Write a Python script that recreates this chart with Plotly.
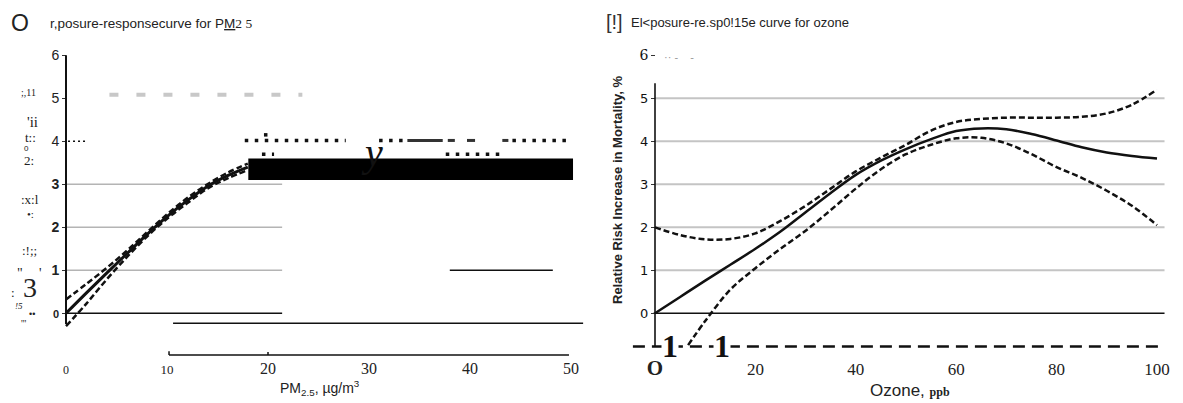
import plotly.graph_objects as go

# ---------------- data ----------------
# Panel A: PM2.5 exposure-response
pm_x = [0, 2, 4, 6, 8, 10, 12, 14, 16, 18]
pm_mid = [0.0, 0.47, 0.93, 1.38, 1.83, 2.25, 2.62, 2.95, 3.2, 3.4]
pm_hi = [0.32, 0.68, 1.05, 1.45, 1.88, 2.3, 2.68, 3.0, 3.27, 3.48]
pm_lo = [-0.3, 0.22, 0.78, 1.3, 1.78, 2.2, 2.56, 2.9, 3.14, 3.33]
pm_xticks = [0, 10, 20, 30, 40, 50]
pm_xticktext = ["<span style='font-size:12px'>0</span>", "<span style='font-size:13px'>10</span>",
                "20", "30", "40", "50"]
pm_yticks = [0, 1, 2, 3, 4, 5, 6]
pm_yticktext = ["<span style='font-size:11px'><b>0</b></span>", "<b>1</b>", "<b>2</b>", "<b>3</b>",
                "4", "5", "6"]

# Panel B: ozone exposure-response
oz_x = [0, 5, 10, 15, 20, 25, 30, 35, 40, 45, 50, 55, 60, 65, 70, 75, 80, 85, 90, 95, 100]
oz_mid = [0.0, 0.38, 0.76, 1.13, 1.5, 1.9, 2.35, 2.8, 3.22, 3.55, 3.82, 4.05, 4.24, 4.3,
          4.28, 4.17, 4.02, 3.86, 3.74, 3.66, 3.6]
oz_hi = [2.0, 1.82, 1.72, 1.73, 1.86, 2.15, 2.5, 2.9, 3.3, 3.62, 3.92, 4.25, 4.45, 4.52,
         4.55, 4.55, 4.55, 4.57, 4.65, 4.85, 5.2]
oz_lo_x = [6.6, 10, 15, 20, 25, 30, 35, 40, 45, 50, 55, 60, 65, 70, 75, 80, 85, 90, 95, 100]
oz_lo = [-0.74, -0.18, 0.55, 1.05, 1.5, 1.92, 2.4, 2.9, 3.35, 3.7, 3.92, 4.07, 4.08,
         3.95, 3.7, 3.4, 3.15, 2.85, 2.5, 2.05]
oz_xticks = [0, 20, 40, 60, 80, 100]
oz_xticktext = ["<span style='font-size:21px'><b>O</b></span>", "20", "40", "60", "80", "100"]
oz_yticks = [0, 1, 2, 3, 4, 5, 6]
oz_yticktext = ["0", "1", "2", "3", "4", "5",
                "<span style='font-family:DejaVu Serif;font-size:14px'>6</span>"]

# reference lines / artefacts (data coordinates)
pm_grid_levels = [1, 2, 3]
pm_grid_span = [0, 21.4]
pm_box_x = [18.05, 50.2]
pm_box_y = [3.1, 3.6]
pm_gray_dash_x = [4.3, 23.4]
pm_gray_dash_y = 5.08
pm_dot_rows = [  # (x0, x1, y)
    (17.7, 27.7, 4.02), (31.0, 33.4, 4.02), (44.2, 49.7, 4.02),
    (19.4, 20.6, 3.7), (37.6, 43.1, 3.7), (19.6, 20.4, 4.15)]
pm_dash_rows = [(33.8, 37.3, 4.02), (37.8, 38.5, 4.02), (39.7, 40.5, 4.02), (43.2, 43.8, 4.02)]
pm_low_lines = [(10.6, 51.2, -0.23), (10.2, 49.8, -0.97)]
pm_seg_one = (38.0, 48.2, 1.0)

oz_grid_levels = [1, 2, 3, 4, 5]
oz_grid_span = [0, 101.5]
oz_dash_line = (-4.4, 100.5, -0.77)
oz_one_marks = [3.0, 13.3]

# ---------------- figure ----------------
# page body has an 8px margin, so the figure is offset by 8px
OFF = 8
W, H = 1175, 395


def px(x):
    return (x - OFF) / W


def py(y):
    return 1 - (y - OFF) / H


fig = go.Figure()

dash_style = "6px,3px"
fig.add_trace(go.Scatter(x=pm_x, y=pm_hi, mode="lines", xaxis="x", yaxis="y",
                         line=dict(color="#111", width=2.5, dash=dash_style, shape="spline")))
fig.add_trace(go.Scatter(x=pm_x, y=pm_lo, mode="lines", xaxis="x", yaxis="y",
                         line=dict(color="#111", width=2.5, dash=dash_style, shape="spline")))
fig.add_trace(go.Scatter(x=pm_x, y=pm_mid, mode="lines", xaxis="x", yaxis="y",
                         line=dict(color="#111", width=3, shape="spline")))

fig.add_trace(go.Scatter(x=oz_x, y=oz_hi, mode="lines", xaxis="x2", yaxis="y2",
                         line=dict(color="#111", width=2.5, dash=dash_style, shape="spline")))
fig.add_trace(go.Scatter(x=oz_lo_x, y=oz_lo, mode="lines", xaxis="x2", yaxis="y2",
                         line=dict(color="#111", width=2.5, dash=dash_style, shape="spline")))
fig.add_trace(go.Scatter(x=oz_x, y=oz_mid, mode="lines", xaxis="x2", yaxis="y2",
                         line=dict(color="#111", width=2.5, shape="spline")))

shapes = []


def hline(xr, yr, x0, x1, y, color, width, dash="solid"):
    shapes.append(dict(type="line", xref=xr, yref=yr, x0=x0, x1=x1, y0=y, y1=y,
                       line=dict(color=color, width=width, dash=dash), layer="below"))


def vline(xr, yr, x, y0, y1, color, width):
    shapes.append(dict(type="line", xref=xr, yref=yr, x0=x, x1=x, y0=y0, y1=y1,
                       line=dict(color=color, width=width)))


# left panel
for lv in pm_grid_levels:
    hline("x", "y", pm_grid_span[0], pm_grid_span[1], lv, "#b4b4b4", 1.6)
hline("x", "y", pm_grid_span[0], pm_grid_span[1], 0, "#111", 1.6)
vline("x", "y", 0, -0.25, 6.0, "#111", 2)
hline("x", "y", pm_gray_dash_x[0], pm_gray_dash_x[1], pm_gray_dash_y, "#c8c8c8", 4, "9px,18px")
for x0, x1, y in pm_dot_rows:
    hline("x", "y", x0, x1, y, "#111", 3.5, "3.5px,6.5px")
for x0, x1, y in pm_dash_rows:
    hline("x", "y", x0, x1, y, "#333", 3)
for x0, x1, y in pm_low_lines:
    hline("x", "y", x0, x1, y, "#111", 1.5)
vline("x", "y", 10.2, -0.97, -0.88, "#111", 1.5)
vline("x", "y", 20.0, -0.97, -0.9, "#111", 1.5)
hline("x", "y", pm_seg_one[0], pm_seg_one[1], pm_seg_one[2], "#111", 1.5)
hline("x", "y", 0.2, 1.9, 4.0, "#111", 1.5, "2px,3px")
shapes.append(dict(type="rect", xref="x", yref="y", x0=pm_box_x[0], x1=pm_box_x[1],
                   y0=pm_box_y[0], y1=pm_box_y[1], fillcolor="#000", line=dict(width=0)))

# right panel
for lv in oz_grid_levels:
    hline("x2", "y2", oz_grid_span[0], oz_grid_span[1], lv, "#c4c4c4", 2)
hline("x2", "y2", -0.3, oz_grid_span[1], 0, "#111", 1.6)
vline("x2", "y2", 0, -0.77, 5.35, "#111", 1.6)
hline("x2", "y2", oz_dash_line[0], oz_dash_line[1], oz_dash_line[2], "#111", 2.5, "12px,7px")

annotations = []


def txt(x, y, s, size, family="Liberation Sans", color="#222", xanchor="center", **kw):
    annotations.append(dict(x=px(x), y=py(y), xref="paper", yref="paper", text=s, showarrow=False,
                            xanchor=xanchor, yanchor="middle",
                            font=dict(size=size, family=family, color=color), **kw))


# titles
txt(20, 23, "O", 23)
txt(48, 24, "r,posure-responsecurve for P<u>M</u><span style='font-family:Liberation Serif'>2 5</span>",
    13.5, xanchor="left")
txt(614, 22, "[!]", 20, color="#333")
txt(629, 23, "El&lt;posure-re.sp0!15e curve for ozone", 13, xanchor="left")

# axis titles
txt(320, 388, "PM<sub>2.5</sub>, µg/m<sup>3</sup>", 14)
txt(868, 390, "Ozone, <span style='font-family:Liberation Serif;font-size:12px'><b>ppb</b></span>",
    17, xanchor="left")
annotations.append(dict(x=px(617), y=py(190), xref="paper", yref="paper",
                        text="<b>Relative Risk Increase in Mortality, %</b>", textangle=-90,
                        showarrow=False, font=dict(size=13, family="Liberation Sans", color="#222")))

# garbled OCR-like characters on the left
txt(28, 92, ";,11", 10, family="Liberation Serif")
txt(32, 122, "'ii", 15, family="Liberation Serif")
txt(31, 137, "t::", 13, family="Liberation Serif")
txt(26, 148, "0", 8)
txt(29, 160, "2:", 13, family="Liberation Serif")
txt(30, 200, ":x:l", 13, family="Liberation Serif")
txt(30, 214, "•:", 11, family="Liberation Serif")
txt(29, 251, ":!;;", 13, family="Liberation Serif")
txt(20, 273, "\"", 14, family="Liberation Serif")
txt(40, 273, "'", 14, family="Liberation Serif")
txt(13, 292, ":", 13, family="Liberation Serif")
txt(30, 287, "3", 28, family="Liberation Serif")
txt(19, 306, "<i>!5</i>", 9, family="Liberation Serif")
txt(32, 314, "••", 9)
txt(24, 323, "'''", 10, family="Liberation Serif")

# "y" glyph on the dotted row
txt(372, 153, "<i>y</i>", 40, family="Liberation Serif", color="#111")
# trailing marks after "6" on the right
txt(662, 57, "·· -    -", 11, color="#999", xanchor="left")

# big "1" marks on the dashed baseline (right panel)
for xv in oz_one_marks:
    annotations.append(dict(x=xv, y=oz_dash_line[2], xref="x2", yref="y2", text="<b>1</b>",
                            showarrow=False, bgcolor="white", borderpad=0,
                            font=dict(size=32, family="Liberation Serif", color="#111")))

dom_y = [py(357), py(47)]
yr = [-1.016, 6.193]

fig.update_layout(
    width=W, height=H, margin=dict(l=0, r=0, t=0, b=0),
    paper_bgcolor="white", plot_bgcolor="white", showlegend=False,
    shapes=shapes, annotations=annotations,
    xaxis=dict(domain=[px(60), px(585)], range=[-0.594, 51.386], anchor="y",
               tickmode="array", tickvals=pm_xticks, ticktext=pm_xticktext,
               showgrid=False, zeroline=False, showline=False, ticks="",
               tickfont=dict(family="Liberation Serif", size=16, color="#222")),
    yaxis=dict(domain=dom_y, range=yr, anchor="free", position=px(66),
               tickmode="array", tickvals=pm_yticks, ticktext=pm_yticktext,
               showgrid=False, zeroline=False, showline=False, ticks="outside", ticklen=4,
               tickcolor="#333", tickfont=dict(family="Liberation Sans", size=14, color="#222")),
    xaxis2=dict(domain=[px(628), px(1170)], range=[-5.378, 102.59], anchor="y2",
                tickmode="array", tickvals=oz_xticks, ticktext=oz_xticktext,
                showgrid=False, zeroline=False, showline=False, ticks="",
                tickfont=dict(family="Liberation Serif", size=17, color="#222")),
    yaxis2=dict(domain=dom_y, range=yr, anchor="free", position=px(655),
                tickmode="array", tickvals=oz_yticks, ticktext=oz_yticktext,
                showgrid=False, zeroline=False, showline=False, ticks="outside", ticklen=4,
                tickcolor="#333", tickfont=dict(family="DejaVu Sans", size=13, color="#111")),
)

fig.write_html("out.html")
